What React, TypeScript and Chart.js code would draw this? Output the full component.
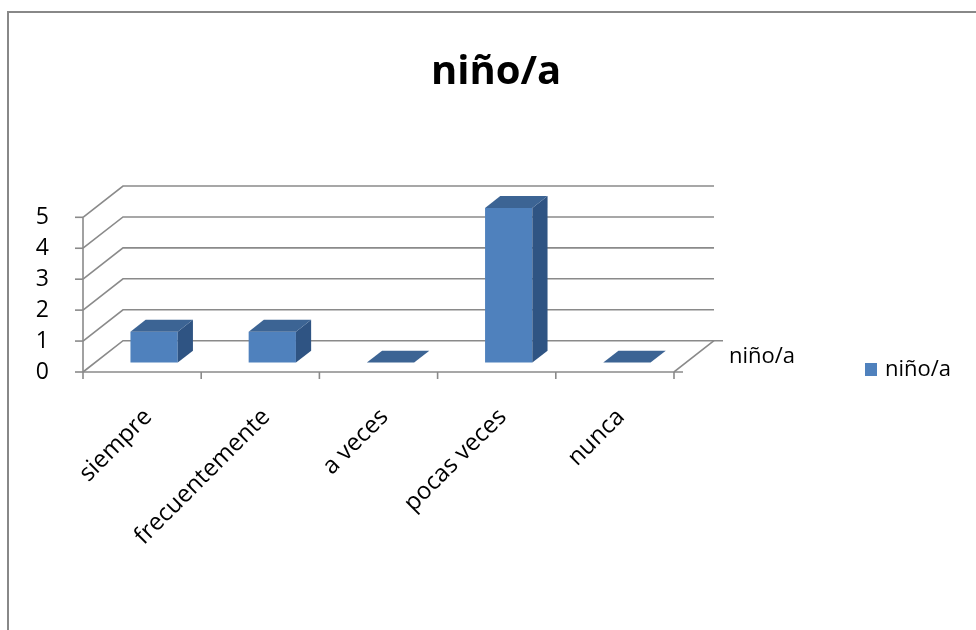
import { useEffect, useRef } from 'react';
import { Chart, registerables } from 'chart.js';

Chart.register(...registerables);

// ---- data ----
const chartTitle = 'niño/a';
const categories = ['siempre', 'frecuentemente', 'a veces', 'pocas veces', 'nunca'];
const seriesName = 'niño/a';
const seriesValues = [1, 1, 0, 5, 0];
const yTickMin = 0;
const yTickMax = 5;
const yTickStep = 1;

// ---- style ----
const FONT = "'Open Sans', sans-serif";
const GRID = '#8a8a8a';
const FRONT = '#4F81BD';
const TOP = '#3C6494';
const SIDE = '#2F5483';
const DEPTH_X = 40;
const DEPTH_Y = -31.3;
const BAR_FRONT = 0.3;
const BAR_BACK = 0.68;

const excel3d = {
  id: 'excel3d',
  beforeDraw(chart: any) {
    const ctx = chart.ctx;
    ctx.save();
    ctx.fillStyle = '#ffffff';
    ctx.fillRect(0, 0, chart.width, chart.height);
    ctx.strokeStyle = '#888888';
    ctx.lineWidth = 2;
    ctx.beginPath();
    ctx.moveTo(8, chart.height);
    ctx.lineTo(8, 12);
    ctx.lineTo(chart.width, 12);
    ctx.stroke();
    ctx.restore();
  },
  beforeDatasetsDraw(chart: any) {
    const { ctx, chartArea } = chart;
    const x = chart.scales.x;
    const y = chart.scales.y;
    const L = chartArea.left;
    const R = chartArea.right;
    const B = y.getPixelForValue(yTickMin);
    ctx.save();
    ctx.strokeStyle = GRID;
    ctx.lineWidth = 1.6;
    ctx.lineCap = 'butt';
    // walls: side diagonals + back gridlines
    for (let v = yTickMin; v <= yTickMax; v += yTickStep) {
      const yp = y.getPixelForValue(v);
      ctx.beginPath();
      ctx.moveTo(L, yp);
      ctx.lineTo(L + DEPTH_X, yp + DEPTH_Y);
      ctx.lineTo(R + DEPTH_X, yp + DEPTH_Y);
      ctx.stroke();
      // value tick on front axis
      ctx.beginPath();
      ctx.moveTo(L - 8, yp);
      ctx.lineTo(L, yp);
      ctx.stroke();
    }
    // front vertical axis
    ctx.beginPath();
    ctx.moveTo(L, y.getPixelForValue(yTickMax));
    ctx.lineTo(L, B);
    ctx.stroke();
    // floor front and right edges
    ctx.beginPath();
    ctx.moveTo(L, B);
    ctx.lineTo(R, B);
    ctx.lineTo(R + DEPTH_X, B + DEPTH_Y);
    ctx.stroke();
    // depth axis ticks
    ctx.beginPath();
    ctx.moveTo(R, B);
    ctx.lineTo(R + 9, B);
    ctx.moveTo(R + DEPTH_X, B + DEPTH_Y);
    ctx.lineTo(R + DEPTH_X + 9, B + DEPTH_Y);
    ctx.stroke();
    // category ticks
    for (let i = 0; i <= categories.length; i++) {
      const xp = x.getPixelForValue(i - 0.5);
      ctx.beginPath();
      ctx.moveTo(xp, B);
      ctx.lineTo(xp, B + 7);
      ctx.stroke();
    }
    ctx.restore();
    ctx.save();
    ctx.translate(DEPTH_X * BAR_FRONT, DEPTH_Y * BAR_FRONT);
  },
  afterDatasetsDraw(chart: any) {
    const ctx = chart.ctx;
    ctx.restore();
    const meta = chart.getDatasetMeta(0);
    const fx = DEPTH_X * BAR_FRONT;
    const fy = DEPTH_Y * BAR_FRONT;
    const bx = DEPTH_X * (BAR_BACK - BAR_FRONT);
    const by = DEPTH_Y * (BAR_BACK - BAR_FRONT);
    ctx.save();
    meta.data.forEach((el: any) => {
      const p = el.getProps(['x', 'y', 'base', 'width'], true);
      const l = p.x - p.width / 2 + fx;
      const r = p.x + p.width / 2 + fx;
      const t = Math.min(p.y, p.base) + fy;
      const b = Math.max(p.y, p.base) + fy;
      // side
      ctx.fillStyle = SIDE;
      ctx.beginPath();
      ctx.moveTo(r, t);
      ctx.lineTo(r, b);
      ctx.lineTo(r + bx, b + by);
      ctx.lineTo(r + bx, t + by);
      ctx.closePath();
      ctx.fill();
      // top
      ctx.fillStyle = TOP;
      ctx.beginPath();
      ctx.moveTo(l, t);
      ctx.lineTo(r, t);
      ctx.lineTo(r + bx, t + by);
      ctx.lineTo(l + bx, t + by);
      ctx.closePath();
      ctx.fill();
    });
    ctx.restore();
  },
  afterDraw(chart: any) {
    const { ctx, chartArea } = chart;
    const y = chart.scales.y;
    const B = y.getPixelForValue(yTickMin);
    ctx.save();
    ctx.font = `22px ${FONT}`;
    ctx.fillStyle = '#000000';
    ctx.textBaseline = 'middle';
    ctx.textAlign = 'left';
    // depth (series) axis label
    ctx.fillText(seriesName, chartArea.right + DEPTH_X + 15, B + DEPTH_Y / 2);
    // legend
    ctx.fillStyle = FRONT;
    ctx.fillRect(865, 363, 12, 13);
    ctx.fillStyle = '#000000';
    ctx.fillText(seriesName, 885, 370);
    ctx.restore();
  },
};

export default function App() {
  const ref = useRef<HTMLCanvasElement>(null);
  useEffect(() => {
    const chart = new Chart(ref.current as HTMLCanvasElement, {
      type: 'bar',
      data: {
        labels: categories,
        datasets: [
          {
            label: seriesName,
            data: seriesValues,
            backgroundColor: FRONT,
            borderWidth: 0,
            barPercentage: 0.4,
            categoryPercentage: 1,
            clip: false,
          } as any,
        ],
      },
      options: {
        responsive: false,
        animation: false,
        devicePixelRatio: 1,
        layout: { padding: { left: 16, right: 0, top: 12, bottom: 0 } },
        plugins: {
          legend: { display: false },
          tooltip: { enabled: false },
          title: {
            display: true,
            text: chartTitle,
            color: '#000000',
            font: { family: FONT, size: 40, weight: 'bold' },
            padding: { top: 37, bottom: 120.3 },
          },
        },
        scales: {
          x: {
            type: 'category',
            offset: true,
            grid: { display: false },
            border: { display: false },
            ticks: {
              color: '#000000',
              font: { family: FONT, size: 24 },
              minRotation: 45,
              maxRotation: 45,
              autoSkip: false,
              padding: 23,
              labelOffset: 6,
            },
            afterFit: (s: any) => {
              s.height = 258;
            },
          },
          y: {
            type: 'linear',
            position: 'left',
            min: yTickMin,
            max: yTickMax,
            grid: { display: false },
            border: { display: false },
            ticks: {
              stepSize: yTickStep,
              autoSkip: false,
              color: '#000000',
              font: { family: FONT, size: 23, lineHeight: 1 },
              padding: 26,
            },
            afterFit: (s: any) => {
              s.width = 67;
            },
          },
          yRight: {
            type: 'linear',
            position: 'right',
            display: true,
            grid: { display: false },
            border: { display: false },
            ticks: { display: false },
            afterFit: (s: any) => {
              s.width = 302;
            },
          },
        },
      } as any,
      plugins: [excel3d],
    });
    return () => chart.destroy();
  }, []);
  return (
    <div style={{ position: 'absolute', left: 0, top: 0, width: 976, height: 630, background: '#ffffff' }}>
      <canvas ref={ref} width={976} height={630} style={{ display: 'block' }} />
    </div>
  );
}
